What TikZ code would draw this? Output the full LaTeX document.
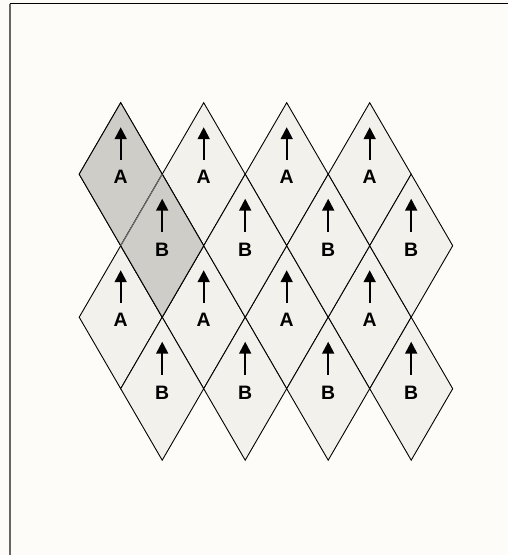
\documentclass[tikz,border=0pt]{standalone}
\usepackage{fontspec}
\setmainfont{Liberation Sans}
\usetikzlibrary{arrows.meta}
\definecolor{bgc}{RGB}{253,252,248}
\definecolor{lightc}{RGB}{242,241,235}
\definecolor{darkc}{RGB}{207,205,200}
\tikzset{
  rhombline/.style={draw=black, line width=0.9bp, line join=miter},
  lbl/.style={inner sep=0pt, anchor=base, font=\fontsize{19.5}{20}\selectfont\bfseries},
  uparrow/.style={line width=2bp, -{Triangle[width=12bp,length=12bp]}},
}
\newcommand\rhombpath[2]{(#1,#2-71.5) -- (#1+41.5,#2) -- (#1,#2+71.5) -- (#1-41.5,#2) -- cycle}
\begin{document}
\begin{tikzpicture}[x=1bp,y=-1bp]
\fill[bgc] (0,0) rectangle (508,555);
\useasboundingbox (0,0) rectangle (508,555);
% frame
\draw[black, line width=1bp] (9.5,4) -- (508,4);
\draw[black!60, line width=2bp] (9.7,4) -- (9.7,555);
% light rhombi
\foreach \r/\cy in {1/174.2, 2/317.2}{
  \foreach \c in {0,1,2,3}{
    \pgfmathsetmacro{\cx}{120.7+83*\c}
    \filldraw[rhombline, fill=lightc] \rhombpath{\cx}{\cy};
  }
}
\foreach \r/\cy in {1/245.7, 2/388.7}{
  \foreach \c in {0,1,2,3}{
    \pgfmathsetmacro{\cx}{162.2+83*\c}
    \filldraw[rhombline, fill=lightc] \rhombpath{\cx}{\cy};
  }
}
% highlighted pair
\filldraw[rhombline, fill=darkc] \rhombpath{120.7}{174.2};
\filldraw[rhombline, fill=darkc] \rhombpath{162.2}{245.7};
\draw[black!55, line width=0.9bp] (162.2,174.2) -- (120.7,245.7);
% arrows and labels
\foreach \r/\cy in {1/174.2, 2/317.2}{
  \foreach \c in {0,1,2,3}{
    \pgfmathsetmacro{\cx}{120.7+83*\c}
    \coordinate (aS\r\c) at (\cx,\cy-14);
    \coordinate (aT\r\c) at (\cx,\cy-47);
    \draw[uparrow] (aS\r\c) -- (aT\r\c);
    \node[lbl] (a\r\c) at (\cx,\cy+9.5) {A};
  }
}
\foreach \r/\cy in {1/245.7, 2/388.7}{
  \foreach \c in {0,1,2,3}{
    \pgfmathsetmacro{\cx}{162.2+83*\c}
    \coordinate (bS\r\c) at (\cx,\cy-14);
    \coordinate (bT\r\c) at (\cx,\cy-47);
    \draw[uparrow] (bS\r\c) -- (bT\r\c);
    \node[lbl] (b\r\c) at (\cx,\cy+10.5) {B};
  }
}
\end{tikzpicture}
\end{document}
